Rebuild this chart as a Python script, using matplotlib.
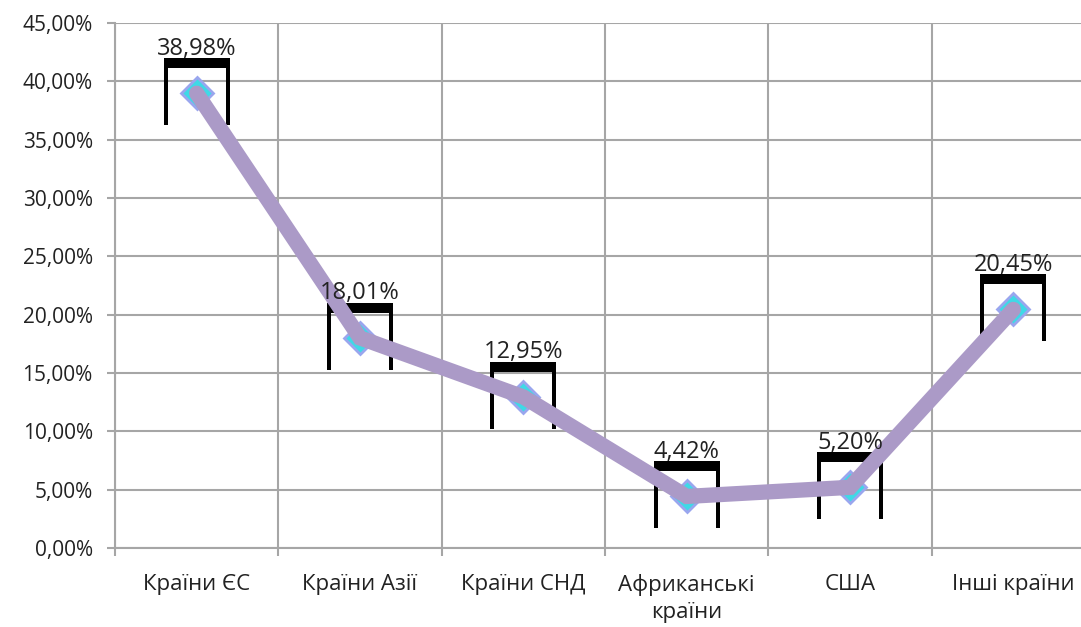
import matplotlib.pyplot as plt
from matplotlib.path import Path
from matplotlib.ticker import FuncFormatter

# Дані
kategorii = ["Країни ЄС", "Країни Азії", "Країни СНД", "Африканські\nкраїни", "США", "Інші країни"]
chastky = [38.98, 18.01, 12.95, 4.42, 5.20, 20.45]
pidpysy = ["38,98%", "18,01%", "12,95%", "4,42%", "5,20%", "20,45%"]
y_tyky = [0, 5, 10, 15, 20, 25, 30, 35, 40, 45]

plt.rcParams["font.family"] = ["Open Sans", "DejaVu Sans"]

fig = plt.figure(figsize=(10.81, 6.27), dpi=100)
ax = fig.add_axes([115 / 1081, 79 / 627, 980 / 1081, 525 / 627])

x = [i + 0.5 for i in range(len(kategorii))]

# рамка-артефакт навколо точок
ramka = Path([(-33, -32), (-33, 35), (33, 35), (33, -32), (29, -32), (29, 25),
              (-29, 25), (-29, -32), (-33, -32)], closed=True)
ax.plot(x, chastky, linestyle="none", marker=ramka, markersize=50,
        markerfacecolor="black", markeredgecolor="black", markeredgewidth=0, zorder=2)

ax.plot(x, chastky, linestyle="none", marker="D", markersize=16,
        markerfacecolor="#3fd9e6", markeredgecolor="#9aa6ee", markeredgewidth=2, zorder=3)
ax.plot(x, chastky, color="#ab9ac7", linewidth=11, solid_capstyle="round",
        solid_joinstyle="miter", zorder=4)

for xi, yi, t in zip(x, chastky, pidpysy):
    ax.annotate(t, (xi, yi), xytext=(0, 32), textcoords="offset points",
                ha="center", va="center", fontsize=17, color="#222222", zorder=5)

ax.set_xlim(0, 6)
ax.set_ylim(0, 45)
ax.set_yticks(y_tyky)
ax.yaxis.set_major_formatter(FuncFormatter(lambda v, p: f"{v:.2f}%".replace(".", ",")))
ax.set_xticks(range(7))
ax.set_xticklabels([])
ax.set_xticks(x, minor=True)
ax.set_xticklabels(kategorii, minor=True, linespacing=1.35)

ax.grid(True, color="#a6a6a6", linewidth=1.5, zorder=0)
ax.set_axisbelow(True)
for s in ["top", "right"]:
    ax.spines[s].set_visible(False)
for s in ["left", "bottom"]:
    ax.spines[s].set_color("#a6a6a6")
    ax.spines[s].set_linewidth(1.5)

ax.tick_params(axis="y", which="major", length=6, width=1.5, color="#a6a6a6",
               labelsize=15, labelcolor="#222222", pad=10)
ax.tick_params(axis="x", which="major", length=6, width=1.5, color="#a6a6a6")
ax.tick_params(axis="x", which="minor", length=0, labelsize=16, labelcolor="#222222", pad=19)

fig.savefig("out.png", dpi=100)
